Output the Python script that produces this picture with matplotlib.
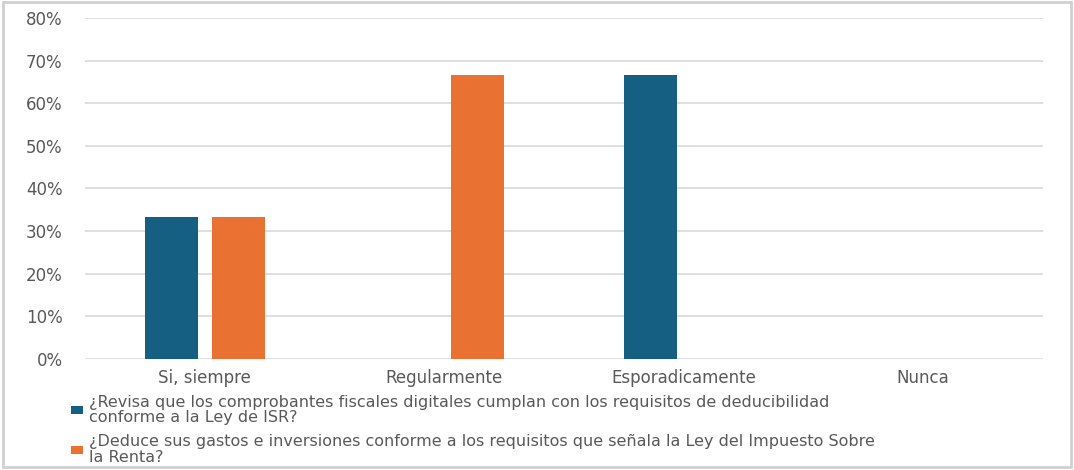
import numpy as np
import matplotlib
matplotlib.use('Agg')
import matplotlib.pyplot as plt
from matplotlib.patches import Rectangle

categories = ['Si, siempre', 'Regularmente', 'Esporadicamente', 'Nunca']
revisa = [33.33, 0, 66.67, 0]
deduce = [33.33, 66.67, 0, 0]
labels = ['¿Revisa que los comprobantes fiscales digitales cumplan con los requisitos de deducibilidad\nconforme a la Ley de ISR?',
          '¿Deduce sus gastos e inversiones conforme a los requisitos que señala la Ley del Impuesto Sobre\nla Renta?']
yticks = [0, 10, 20, 30, 40, 50, 60, 70, 80]

blue = '#156082'
orange = '#E97132'
grey = '#595959'

fig = plt.figure(figsize=(10.74, 4.70), dpi=100)
ax = fig.add_axes([0.0791, 0.2362, 0.892, 0.7255])

x = np.arange(len(categories))
w = 0.221
b1 = ax.bar(x - 0.14, revisa, w, color=blue, label=labels[0], zorder=3)
b2 = ax.bar(x + 0.14, deduce, w, color=orange, label=labels[1], zorder=3)

ax.set_xlim(-0.5, len(categories) - 0.5)
ax.set_ylim(0, 80)
ax.set_yticks(yticks)
ax.set_yticklabels(['%d%%' % v for v in yticks])
ax.set_xticks(x)
ax.set_xticklabels(categories)
ax.grid(axis='y', color='#d9d9d9', linewidth=1.2, zorder=0)
for s in ax.spines.values():
    s.set_visible(False)
ax.tick_params(length=0, colors=grey, labelsize=12)
ax.tick_params(axis='y', pad=16)
ax.tick_params(axis='x', pad=7)

leg = fig.legend(handles=[b1, b2], loc='upper left', bbox_to_anchor=(0.066, 0.16),
                 frameon=False, fontsize=11.5, handlelength=0.75, handleheight=0.38,
                 handletextpad=0.38, labelspacing=0.55, borderaxespad=0, borderpad=0)
for t in leg.get_texts():
    t.set_color(grey)
    t.set_linespacing(1.05)

fig.patches.append(Rectangle((0.003, 0.006), 0.994, 0.99, transform=fig.transFigure,
                             fill=False, edgecolor='#d0d0d0', linewidth=2))

fig.savefig('out.png', dpi=100)
